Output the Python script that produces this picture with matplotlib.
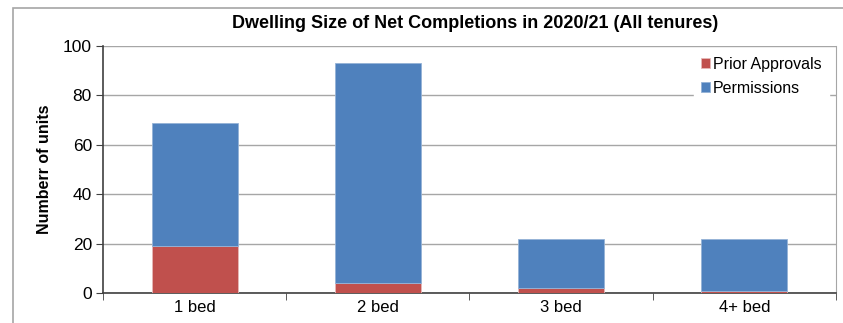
import matplotlib.pyplot as plt
from matplotlib.patches import Rectangle

plt.rcParams['font.family'] = ['Liberation Sans', 'DejaVu Sans']

categories = ["1 bed", "2 bed", "3 bed", "4+ bed"]
prior_approvals = [19, 4, 2, 1]
permissions = [50, 89, 20, 21]

fig = plt.figure(figsize=(8.43, 3.23), dpi=100)
ax = fig.add_axes([103 / 843, 1 - 293 / 323, (836 - 103) / 843, (293 - 46) / 323])

# outer chart border (cut off at right and bottom)
fig.patches.append(Rectangle((13 / 843, -0.2), 2, 1.2 - 8 / 323, transform=fig.transFigure,
                             fill=False, edgecolor='#a6a6a6', linewidth=1.2))

x = range(len(categories))
ax.bar(x, prior_approvals, width=0.47, color='#c0504d', edgecolor='#e6b8b7', linewidth=0.6,
       label='Prior Approvals', zorder=3)
ax.bar(x, permissions, width=0.47, bottom=prior_approvals, color='#4f81bd', edgecolor='#95b3d7',
       linewidth=0.6, label='Permissions', zorder=3)

ax.set_xlim(-0.5, len(categories) - 0.5)
ax.set_ylim(0, 100)
ax.set_yticks(range(0, 101, 20))
ax.set_xticks(x)
ax.set_xticklabels(categories, fontsize=12)
ax.set_xticks([i - 0.5 for i in range(len(categories) + 1)], minor=True)
ax.tick_params(axis='x', which='major', length=0, pad=5)
ax.tick_params(axis='x', which='minor', length=5, color='#404040')
ax.tick_params(axis='y', length=5, color='#404040', labelsize=12.5, pad=3)

ax.yaxis.grid(True, color='#a6a6a6', linewidth=1.0, zorder=0)
ax.set_axisbelow(True)
ax.spines['top'].set_visible(False)
ax.spines['right'].set_color('#a6a6a6')
ax.spines['left'].set_color('#404040')
ax.spines['bottom'].set_color('#404040')
ax.spines['left'].set_linewidth(1.2)
ax.spines['bottom'].set_linewidth(1.2)

ax.set_ylabel("Numberr of units", fontsize=11.5, fontweight='bold', labelpad=8)
fig.text(475 / 843, 1 - 23 / 323, "Dwelling Size of Net Completions in 2020/21 (All tenures)",
         ha='center', va='center', fontsize=13, fontweight='bold')

leg = ax.legend(loc='upper right', bbox_to_anchor=(0.99, 0.985), borderaxespad=0, frameon=True,
                fontsize=11.5, handlelength=0.55, handleheight=0.55, handletextpad=0.2,
                borderpad=0.45, labelspacing=0.55, fancybox=False)
leg.get_frame().set_edgecolor('white')
leg.get_frame().set_facecolor('white')
leg.get_frame().set_alpha(1.0)

fig.savefig("out.png", dpi=100)
